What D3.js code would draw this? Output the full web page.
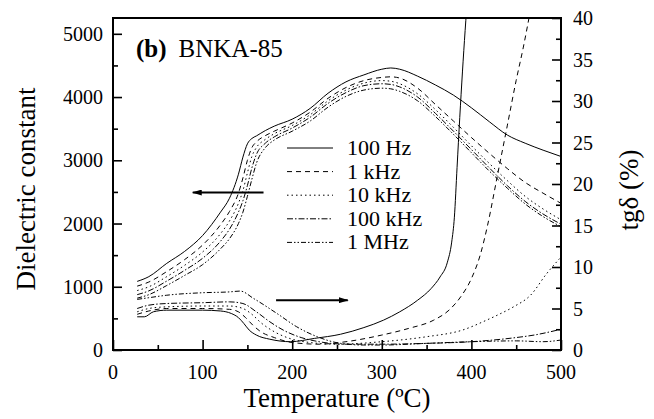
<!doctype html>
<html>
  <head>
    <meta charset="UTF-8">
    <script src="https://cdnjs.cloudflare.com/ajax/libs/d3/7.8.5/d3.min.js"></script>
    <style>
      body { margin: 0; background: #fff; }
    </style>
  </head>
  <body>
    <div id="graphic"></div>
    <script>

// dielectric constant, shared temperature grid (°C)
var tempEps = [27, 40, 60, 80, 100, 120, 130, 140, 145, 150, 155, 160, 170, 180, 200, 220, 240, 260, 280, 300, 310, 320, 340, 360, 380, 400, 420, 440, 460, 480, 500];
var eps100Hz = [1085, 1160, 1370, 1560, 1810, 2180, 2400, 2780, 3050, 3260, 3345, 3385, 3470, 3540, 3650, 3820, 4060, 4240, 4350, 4440, 4460, 4440, 4330, 4190, 4030, 3830, 3610, 3400, 3270, 3160, 3060];
var eps1kHz = [1010, 1075, 1240, 1430, 1660, 1980, 2190, 2480, 2720, 3000, 3200, 3290, 3390, 3460, 3590, 3760, 3980, 4150, 4260, 4310, 4320, 4300, 4140, 3880, 3620, 3360, 3110, 2870, 2650, 2480, 2320];
var eps10kHz = [940, 1000, 1160, 1340, 1550, 1840, 2040, 2320, 2520, 2800, 3060, 3200, 3330, 3420, 3550, 3720, 3940, 4110, 4220, 4260, 4250, 4210, 4050, 3800, 3520, 3230, 2950, 2680, 2430, 2230, 2060];
var eps100kHz = [875, 935, 1090, 1260, 1450, 1720, 1910, 2180, 2360, 2600, 2880, 3090, 3270, 3370, 3510, 3680, 3900, 4070, 4180, 4210, 4200, 4160, 4000, 3740, 3460, 3170, 2880, 2600, 2350, 2150, 1990];
var eps1MHz = [820, 875, 1020, 1180, 1350, 1600, 1760, 2000, 2180, 2430, 2700, 2950, 3200, 3320, 3460, 3620, 3840, 4010, 4110, 4140, 4130, 4090, 3940, 3690, 3410, 3120, 2830, 2560, 2310, 2110, 1950];

// loss tangent tgδ (%), each with its own temperatures
var tanT100Hz = [27, 35, 45, 60, 100, 120, 132, 140, 146, 152, 160, 175, 198, 225, 254, 280, 302, 320, 340, 355, 365, 373, 378, 381, 384, 387, 390, 393, 396];
var tan100Hz = [4.0, 4.0, 4.6, 4.8, 4.8, 4.7, 4.4, 3.9, 3.2, 2.4, 1.8, 1.3, 1.0, 1.4, 1.9, 2.7, 3.6, 4.6, 6.0, 7.4, 8.8, 10.5, 13, 16, 22, 28, 33.5, 38.5, 43];
var tanT1kHz = [27, 40, 60, 100, 130, 140, 148, 156, 165, 180, 200, 230, 260, 300, 330, 358, 375, 388, 400, 410, 418, 429, 440, 450, 458, 466];
var tan1kHz = [4.3, 4.7, 5.0, 5.0, 4.9, 4.6, 3.9, 3.0, 2.2, 1.5, 0.9, 0.7, 1.0, 1.8, 2.6, 3.6, 4.8, 6.4, 8.6, 11.5, 15, 21, 27, 32.5, 36.5, 41];
var tanT10kHz = [27, 40, 60, 100, 130, 145, 155, 165, 180, 200, 220, 250, 300, 350, 390, 417, 429, 447, 466, 484, 500];
var tan10kHz = [4.6, 5.0, 5.2, 5.3, 5.3, 5.0, 4.3, 3.3, 2.2, 1.3, 0.9, 0.7, 1.0, 1.6, 2.4, 3.6, 4.2, 5.2, 6.6, 9.2, 11.2];
var tanT100kHz = [27, 40, 60, 100, 130, 145, 160, 175, 190, 210, 230, 260, 300, 350, 400, 450, 470, 500];
var tan100kHz = [5.0, 5.4, 5.6, 5.7, 5.8, 5.6, 4.6, 3.4, 2.4, 1.5, 1.0, 0.7, 0.7, 0.8, 1.0, 1.5, 1.8, 2.5];
var tanT1MHz = [27, 40, 60, 100, 130, 142, 157, 183, 205, 228, 254, 280, 300, 350, 400, 450, 480, 500];
var tan1MHz = [6.1, 6.3, 6.6, 6.9, 7.0, 7.1, 6.2, 4.4, 2.8, 1.6, 0.8, 0.6, 0.6, 0.8, 1.0, 1.1, 1.0, 1.2];

var seriesNames = ["100 Hz", "1 kHz", "10 kHz", "100 kHz", "1 MHz"];
var dashes = [null, "5,4", "1.5,3", "6,2,1.5,2", "5,2,1.5,2,1.5,2"];

var xTicks = [0, 100, 200, 300, 400, 500];
var epsTicks = [0, 1000, 2000, 3000, 4000, 5000];
var tanTicks = [0, 5, 10, 15, 20, 25, 30, 35, 40];

var margin = {top: 18, right: 93, bottom: 69, left: 113};
var width = 654 - margin.left - margin.right,
    height = 419 - margin.top - margin.bottom;

var svg = d3.select("#graphic").append("svg")
  .attr("width", 654)
  .attr("height", 419)
  .attr("font-family", "'Liberation Serif', 'DejaVu Serif', serif");

var g = svg.append("g")
  .attr("transform", "translate(" + margin.left + "," + margin.top + ")");

var xScale = d3.scaleLinear().domain([0, 500]).range([0, width]);
var yEps = d3.scaleLinear().domain([0, 5250]).range([height, 0]);
var yTan = d3.scaleLinear().domain([0, 40]).range([height, 0]);

svg.append("defs").append("clipPath").attr("id", "plotclip")
  .append("rect").attr("width", width).attr("height", height);

// axes: inward ticks, majors + minors
function tickAxis(axis, scale, vals, len, transform) {
  var a = g.append("g").attr("transform", transform || null);
  a.call(axis(scale).tickValues(vals).tickSize(len).tickFormat(""));
  a.select(".domain").remove();
  a.selectAll("line").attr("stroke", "#000").attr("stroke-width", 1.6);
  return a;
}

var xMinor = d3.range(50, 500, 100);
var epsMinor = d3.range(500, 5250, 1000);
var tanMinor = d3.range(2.5, 40, 5);

// bottom
tickAxis(d3.axisTop, xScale, xTicks, 10, "translate(0," + height + ")");
tickAxis(d3.axisTop, xScale, xMinor, 5, "translate(0," + height + ")");
// left
tickAxis(d3.axisRight, yEps, epsTicks, 9);
tickAxis(d3.axisRight, yEps, epsMinor, 5);
// right
tickAxis(d3.axisLeft, yTan, tanTicks, 9, "translate(" + width + ",0)");
tickAxis(d3.axisLeft, yTan, tanMinor, 5, "translate(" + width + ",0)");

// tick labels
g.selectAll(".xl").data(xTicks).enter().append("text")
  .attr("x", d => xScale(d))
  .attr("y", height + 29)
  .attr("text-anchor", "middle")
  .style("font-size", "20px")
  .text(d => d);

g.selectAll(".yl").data(epsTicks).enter().append("text")
  .attr("x", -10)
  .attr("y", d => yEps(d) + 7)
  .attr("text-anchor", "end")
  .style("font-size", "20px")
  .text(d => d);

g.selectAll(".tl").data(tanTicks).enter().append("text")
  .attr("x", width + 12)
  .attr("y", d => yTan(d) + 7)
  .attr("text-anchor", "start")
  .style("font-size", "20px")
  .text(d => d);

// frame
g.append("rect")
  .attr("width", width)
  .attr("height", height)
  .attr("fill", "none")
  .attr("stroke", "#000")
  .attr("stroke-width", 2);

// axis titles
svg.append("text")
  .attr("x", margin.left + width / 2)
  .attr("y", 407)
  .attr("text-anchor", "middle")
  .style("font-size", "27px")
  .text("Temperature (\u00BAC)");

svg.append("text")
  .attr("transform", "translate(35,189)rotate(-90)")
  .attr("text-anchor", "middle")
  .style("font-size", "27px")
  .text("Dielectric constant");

svg.append("text")
  .attr("transform", "translate(638,190)rotate(-90)")
  .attr("text-anchor", "middle")
  .style("font-size", "27px")
  .text("tg\u03B4 (%)");

// panel title
var title = g.append("text")
  .attr("x", 23)
  .attr("y", 39)
  .style("font-size", "25px");
title.append("tspan").style("font-weight", "bold").text("(b)");
title.append("tspan").attr("dx", 12).text("BNKA-85");

// curves
var epsSeries = [eps100Hz, eps1kHz, eps10kHz, eps100kHz, eps1MHz];
var tanSeries = [[tanT100Hz, tan100Hz], [tanT1kHz, tan1kHz], [tanT10kHz, tan10kHz], [tanT100kHz, tan100kHz], [tanT1MHz, tan1MHz]];

var epsLine = d3.line()
  .x(d => xScale(d[0]))
  .y(d => yEps(d[1]))
  .curve(d3.curveMonotoneX);
var tanLine = d3.line()
  .x(d => xScale(d[0]))
  .y(d => yTan(d[1]))
  .curve(d3.curveMonotoneX);

var curves = g.append("g").attr("clip-path", "url(#plotclip)");

epsSeries.forEach(function(vals, i) {
  curves.append("path")
    .datum(tempEps.map((t, j) => [t, vals[j]]))
    .attr("d", epsLine)
    .attr("fill", "none")
    .attr("stroke", "#000")
    .attr("stroke-width", 1)
    .attr("stroke-dasharray", dashes[i]);
});

tanSeries.forEach(function(s, i) {
  curves.append("path")
    .datum(s[0].map((t, j) => [t, s[1][j]]))
    .attr("d", tanLine)
    .attr("fill", "none")
    .attr("stroke", "#000")
    .attr("stroke-width", 1)
    .attr("stroke-dasharray", dashes[i]);
});

// arrows pointing to the axis each set belongs to
svg.append("defs").append("marker")
  .attr("id", "head")
  .attr("viewBox", "0 0 10 6")
  .attr("refX", 9)
  .attr("refY", 3)
  .attr("markerWidth", 10)
  .attr("markerHeight", 6)
  .attr("markerUnits", "userSpaceOnUse")
  .attr("orient", "auto")
  .append("path")
  .attr("d", "M0,0L10,3L0,6Z")
  .attr("fill", "#000");

g.append("line")
  .attr("x1", xScale(168)).attr("x2", xScale(89))
  .attr("y1", yEps(2490)).attr("y2", yEps(2490))
  .attr("stroke", "#000").attr("stroke-width", 2)
  .attr("marker-end", "url(#head)");

g.append("line")
  .attr("x1", xScale(182)).attr("x2", xScale(262))
  .attr("y1", yTan(6)).attr("y2", yTan(6))
  .attr("stroke", "#000").attr("stroke-width", 2)
  .attr("marker-end", "url(#head)");

// legend
var legend = svg.append("g").attr("transform", "translate(287,148)");
seriesNames.forEach(function(name, i) {
  legend.append("line")
    .attr("x1", 0).attr("x2", 46)
    .attr("y1", i * 23.6).attr("y2", i * 23.6)
    .attr("stroke", "#000")
    .attr("stroke-width", 1)
    .attr("stroke-dasharray", dashes[i]);
  legend.append("text")
    .attr("x", 60)
    .attr("y", i * 23.6 + 7)
    .style("font-size", "22px")
    .text(name);
});

    </script>
  </body>
</html>
